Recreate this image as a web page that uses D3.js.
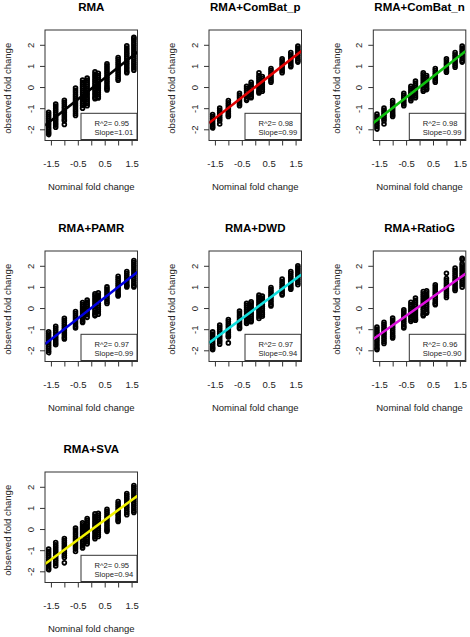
<!DOCTYPE html>
<html>
<head>
<meta charset="utf-8">
<script src="https://cdn.jsdelivr.net/npm/d3@7"></script>
<style>
  html, body { margin: 0; padding: 0; background: #fff; }
  svg { display: block; }
  text { font-family: "Liberation Sans", Arial, sans-serif; }
</style>
</head>
<body>
<svg id="chart" width="470" height="637"></svg>
<script>
// ---------- DATA ----------
const nominalFC = [-1.585, -1.322, -1, -0.585, -0.322, -0.152, 0.138, 0.263, 0.585, 1, 1.322, 1.585];
const xTickValues = [-1.5, -1, -0.5, 0, 0.5, 1, 1.5];
const xTickLabels = ["-1.5", "", "-0.5", "", "0.5", "", "1.5"];
const yTickValues = [-2, -1, 0, 1, 2];
const yTickLabels = ["-2", "-1", "0", "1", "2"];

const titles = ["RMA", "RMA+ComBat_p", "RMA+ComBat_n", "RMA+PAMR", "RMA+DWD", "RMA+RatioG", "RMA+SVA"];
const lineColors = ["#000000", "#e00000", "#10c010", "#0000e0", "#10dede", "#dd10dd", "#f2f200"];
const rSquared = [0.95, 0.98, 0.98, 0.97, 0.97, 0.96, 0.95];
const slopes = [1.01, 0.99, 0.99, 0.99, 0.94, 0.90, 0.94];
const intercepts = [-0.08, 0.0, 0.0, 0.0, -0.03, 0.08, -0.04];

// observed fold change, one list per nominal fold change column
const obsRMA = [
  [-1.2,-1.3,-1.4,-1.5,-1.6,-1.7,-1.8,-1.9,-2.0,-2.1,-2.18,-2.25],
  [-0.8,-0.9,-1.0,-1.1,-1.2,-1.3,-1.4,-1.5,-1.6,-1.7,-1.8,-1.9],
  [-0.63,-0.72,-0.82,-0.92,-1.02,-1.12,-1.22,-1.32,-1.42,-1.52,-1.6,-1.77],
  [-0.05,-0.15,-0.25,-0.35,-0.45,-0.55,-0.65,-0.75,-0.85,-0.95,-1.05,-1.15,-1.25,-1.35],
  [0.33,0.23,0.13,0.03,-0.07,-0.17,-0.27,-0.37,-0.47,-0.57,-0.67,-0.77,-0.87,-1.0],
  [0.42,0.32,0.22,0.12,0.02,-0.08,-0.18,-0.28,-0.38,-0.48,-0.58,-0.68,-0.78,-0.88],
  [0.72,0.62,0.52,0.42,0.32,0.22,0.12,0.02,-0.08,-0.18,-0.28,-0.38,-0.48,-0.55],
  [0.65,0.55,0.45,0.35,0.25,0.15,0.05,-0.05,-0.15,-0.25,-0.35,-0.45,-0.52],
  [1.1,1.0,0.9,0.8,0.7,0.6,0.5,0.4,0.3,0.2,0.1,0.0,-0.07,-0.14],
  [1.4,1.3,1.2,1.1,1.0,0.9,0.8,0.7,0.6,0.5,0.4,0.32],
  [1.95,1.85,1.75,1.65,1.55,1.45,1.35,1.25,1.15,1.05,0.95,0.85,0.75,0.68],
  [2.36,2.28,2.2,2.1,2.0,1.9,1.8,1.7,1.6,1.5,1.4,1.3,1.2,1.1,1.0,0.9,0.8]
];
const obsComBatP = [
  [-1.3,-1.4,-1.5,-1.6,-1.7,-1.8,-1.88,-1.94],
  [-1.0,-1.1,-1.2,-1.3,-1.4,-1.5,-1.6,-1.75],
  [-0.64,-0.74,-0.84,-0.94,-1.04,-1.14,-1.24,-1.32,-1.39],
  [-0.3,-0.4,-0.5,-0.6,-0.7,-0.8,-0.88],
  [0.04,-0.06,-0.16,-0.26,-0.36,-0.46,-0.56,-0.63],
  [0.23,0.13,0.03,-0.07,-0.17,-0.27,-0.37,-0.45,-0.51],
  [0.68,0.55,0.45,0.35,0.25,0.15,0.05,-0.05,-0.15,-0.22,-0.28],
  [0.5,0.4,0.3,0.2,0.1,0.0,-0.1,-0.2],
  [0.88,0.78,0.68,0.58,0.48,0.38,0.3,0.23],
  [1.34,1.24,1.14,1.04,0.94,0.84,0.76,0.68],
  [1.63,1.53,1.43,1.33,1.23,1.13,1.03,0.96],
  [1.94,1.84,1.74,1.64,1.54,1.44,1.34,1.26,1.18]
];
const obsComBatN = [
  [-1.28,-1.38,-1.48,-1.58,-1.68,-1.78,-1.88,-1.99],
  [-1.0,-1.1,-1.2,-1.3,-1.4,-1.5,-1.6,-1.75],
  [-0.64,-0.74,-0.84,-0.94,-1.04,-1.14,-1.24,-1.32,-1.39],
  [-0.3,-0.4,-0.5,-0.6,-0.7,-0.8,-0.88],
  [0.04,-0.06,-0.16,-0.26,-0.36,-0.46,-0.56,-0.65],
  [0.28,0.18,0.08,-0.02,-0.12,-0.22,-0.32,-0.42,-0.51],
  [0.68,0.58,0.48,0.38,0.28,0.18,0.08,-0.02,-0.12,-0.2],
  [0.55,0.45,0.35,0.25,0.15,0.05,-0.05,-0.12],
  [0.88,0.78,0.68,0.58,0.48,0.38,0.3,0.23],
  [1.34,1.24,1.14,1.04,0.94,0.84,0.76,0.7],
  [1.63,1.53,1.43,1.33,1.23,1.13,1.03,0.94],
  [1.94,1.84,1.74,1.64,1.54,1.44,1.34,1.24,1.18]
];
const obsPAMR = [
  [-1.12,-1.22,-1.32,-1.42,-1.52,-1.62,-1.72,-1.82,-1.92,-2.02,-2.11],
  [-0.86,-0.96,-1.06,-1.16,-1.26,-1.36,-1.46,-1.56,-1.66,-1.74],
  [-0.48,-0.58,-0.68,-0.78,-0.88,-0.98,-1.08,-1.18,-1.28,-1.38,-1.46],
  [-0.16,-0.26,-0.36,-0.46,-0.56,-0.66,-0.76,-0.86,-0.94],
  [0.26,0.16,0.06,-0.04,-0.14,-0.24,-0.34,-0.44,-0.54,-0.62,-0.68],
  [0.38,0.28,0.18,0.08,-0.02,-0.12,-0.22,-0.32,-0.44],
  [0.68,0.58,0.48,0.38,0.28,0.18,0.08,-0.02,-0.12,-0.22,-0.3,-0.37],
  [0.72,0.62,0.52,0.42,0.32,0.22,0.12,0.02,-0.08,-0.18,-0.29],
  [1.0,0.9,0.8,0.7,0.6,0.5,0.4,0.3,0.22],
  [1.5,1.4,1.3,1.2,1.1,1.0,0.9,0.8,0.7,0.62,0.57],
  [1.73,1.63,1.53,1.43,1.33,1.23,1.13,1.05,1.0],
  [2.25,2.15,2.05,1.95,1.85,1.75,1.65,1.55,1.45,1.35,1.25,1.15,1.05,1.0]
];
const obsDWD = [
  [-1.13,-1.23,-1.33,-1.43,-1.53,-1.63,-1.73,-1.83,-1.9,-1.97],
  [-0.81,-0.91,-1.01,-1.11,-1.21,-1.31,-1.41,-1.51,-1.6,-1.71],
  [-0.54,-0.64,-0.74,-0.84,-0.94,-1.04,-1.14,-1.24,-1.32,-1.37,-1.65],
  [-0.14,-0.24,-0.34,-0.44,-0.54,-0.64,-0.74,-0.84,-0.92,-0.97],
  [0.22,0.12,0.02,-0.08,-0.18,-0.28,-0.38,-0.48,-0.58,-0.66,-0.73],
  [0.3,0.2,0.1,0.0,-0.1,-0.2,-0.3,-0.4,-0.5,-0.58,-0.65],
  [0.62,0.52,0.42,0.32,0.22,0.12,0.02,-0.08,-0.18,-0.28,-0.39,-0.49],
  [0.57,0.47,0.37,0.27,0.17,0.07,-0.03,-0.13,-0.23,-0.3,-0.39],
  [0.97,0.87,0.77,0.67,0.57,0.47,0.37,0.27,0.17,0.1],
  [1.37,1.27,1.17,1.07,0.97,0.87,0.77,0.68,0.62],
  [1.73,1.63,1.53,1.43,1.33,1.23,1.13,1.03,0.95,0.89],
  [2.0,1.9,1.8,1.7,1.6,1.5,1.4,1.3,1.2,1.1]
];
const obsRatioG = [
  [-0.9,-1.0,-1.1,-1.2,-1.3,-1.4,-1.5,-1.6,-1.7,-1.8,-1.9,-1.97],
  [-0.68,-0.78,-0.88,-0.98,-1.08,-1.18,-1.28,-1.38,-1.48,-1.58,-1.68],
  [-0.47,-0.57,-0.67,-0.77,-0.87,-0.97,-1.07,-1.17,-1.27,-1.35,-1.42],
  [-0.08,-0.18,-0.28,-0.38,-0.48,-0.58,-0.68,-0.78,-0.87,-0.94],
  [0.27,0.17,0.07,-0.03,-0.13,-0.23,-0.33,-0.43,-0.53,-0.63],
  [0.47,0.37,0.27,0.17,0.07,-0.03,-0.13,-0.23,-0.33,-0.43,-0.52,-0.58],
  [0.78,0.68,0.58,0.48,0.38,0.28,0.18,0.08,-0.02,-0.12,-0.22,-0.3,-0.36],
  [0.82,0.72,0.62,0.52,0.42,0.32,0.22,0.12,0.02,-0.08,-0.18,-0.24],
  [1.1,1.0,0.9,0.8,0.7,0.6,0.5,0.4,0.3,0.22,0.16],
  [1.65,1.4,1.3,1.2,1.1,1.0,0.9,0.8,0.7,0.6,0.5],
  [1.89,1.79,1.69,1.59,1.49,1.39,1.29,1.19,1.09,0.99,0.9,0.83],
  [2.36,2.28,2.1,2.0,1.9,1.8,1.7,1.6,1.5,1.4,1.3,1.2,1.1,0.99]
];
const obsSVA = [
  [-0.95,-1.05,-1.15,-1.25,-1.35,-1.45,-1.55,-1.65,-1.75,-1.85,-1.93],
  [-0.64,-0.74,-0.84,-0.94,-1.04,-1.14,-1.24,-1.34,-1.44,-1.54,-1.64,-1.75],
  [-0.45,-0.55,-0.65,-0.75,-0.85,-0.95,-1.05,-1.15,-1.25,-1.35,-1.6],
  [0.05,-0.05,-0.15,-0.25,-0.35,-0.45,-0.55,-0.65,-0.75,-0.85,-0.95,-1.06],
  [0.3,0.2,0.1,0.0,-0.1,-0.2,-0.3,-0.4,-0.5,-0.6,-0.7,-0.8,-0.9],
  [0.5,0.4,0.3,0.2,0.1,0.0,-0.1,-0.2,-0.3,-0.4,-0.5,-0.6,-0.7],
  [0.72,0.62,0.52,0.42,0.32,0.22,0.12,0.02,-0.08,-0.18,-0.28,-0.38,-0.46],
  [0.74,0.64,0.54,0.44,0.34,0.24,0.14,0.04,-0.06,-0.16,-0.26,-0.35],
  [0.93,0.83,0.73,0.63,0.53,0.43,0.33,0.23,0.13,0.03,-0.05,-0.11],
  [1.3,1.2,1.1,1.0,0.9,0.8,0.7,0.6,0.5,0.42,0.36],
  [1.68,1.58,1.48,1.38,1.28,1.18,1.08,0.98,0.88,0.78,0.68],
  [2.06,1.96,1.86,1.76,1.66,1.56,1.46,1.36,1.26,1.16,1.06,0.96,0.86,0.78]
];
const panelData = [obsRMA, obsComBatP, obsComBatN, obsPAMR, obsDWD, obsRatioG, obsSVA];

// ---------- LAYOUT ----------
const colLeft = [45, 209, 373.3];
const rowTop = [30, 251, 472];
const bw = 92.5, bh = 110.5;

const x = d3.scaleLinear().domain([-1.72, 1.72]).range([0, bw]);
const y = d3.scaleLinear().domain([-2.53, 2.7]).range([bh, 0]);

const svg = d3.select("#chart");
svg.append("rect").attr("width", 470).attr("height", 637).attr("fill", "#fff");

titles.forEach((title, i) => {
  const col = i % 3, row = Math.floor(i / 3);
  const g = svg.append("g").attr("transform", `translate(${colLeft[col]},${rowTop[row]})`);

  const clipId = "clip" + i;
  g.append("clipPath").attr("id", clipId)
    .append("rect").attr("width", bw).attr("height", bh);

  // points
  const pts = [];
  panelData[i].forEach((vals, ci) => vals.forEach(v => pts.push([nominalFC[ci], v])));
  g.append("g").attr("clip-path", `url(#${clipId})`)
    .selectAll("circle").data(pts).join("circle")
    .attr("cx", d => x(d[0])).attr("cy", d => y(d[1]))
    .attr("r", 1.9).attr("fill", "none").attr("stroke", "#000").attr("stroke-width", 1.8);

  // regression line
  const xd = x.domain();
  g.append("line").attr("clip-path", `url(#${clipId})`)
    .attr("x1", x(xd[0])).attr("y1", y(intercepts[i] + slopes[i] * xd[0]))
    .attr("x2", x(xd[1])).attr("y2", y(intercepts[i] + slopes[i] * xd[1]))
    .attr("stroke", lineColors[i]).attr("stroke-width", 2.6);

  // legend
  const lg = g.append("g").attr("transform", "translate(36,83.3)");
  lg.append("rect").attr("width", 56).attr("height", 26.2)
    .attr("fill", "#fff").attr("stroke", "#333").attr("stroke-width", 1);
  lg.append("text").attr("x", 13.5).attr("y", 12.7).attr("font-size", 7.6).attr("fill", "#222")
    .text("R^2= " + rSquared[i].toFixed(2));
  lg.append("text").attr("x", 13.5).attr("y", 21.7).attr("font-size", 7.6).attr("fill", "#222")
    .text("Slope=" + slopes[i].toFixed(2));

  // box
  g.append("rect").attr("width", bw).attr("height", bh)
    .attr("fill", "none").attr("stroke", "#333").attr("stroke-width", 1);

  // x axis
  const xa = g.append("g").attr("transform", `translate(0,${bh})`)
    .call(d3.axisBottom(x).tickValues(xTickValues).tickSize(5)
      .tickFormat((d, k) => xTickLabels[k]));
  xa.select(".domain").remove();
  xa.selectAll("line").attr("stroke", "#333");
  xa.selectAll("text").attr("y", 26.8).attr("dy", 0)
    .attr("font-size", 9.5).attr("fill", "#222")
    .style("font-family", '"Liberation Sans", Arial, sans-serif');

  // y axis
  const ya = g.append("g")
    .call(d3.axisLeft(y).tickValues(yTickValues).tickSize(5)
      .tickFormat((d, k) => yTickLabels[k]));
  ya.select(".domain").remove();
  ya.selectAll("line").attr("stroke", "#333");
  ya.selectAll("text").attr("x", 0).attr("y", 0).attr("dy", "0.35em")
    .attr("text-anchor", "middle")
    .attr("transform", "translate(-14.5,0) rotate(-90)")
    .attr("font-size", 9.5).attr("fill", "#222")
    .style("font-family", '"Liberation Sans", Arial, sans-serif');

  // title
  g.append("text").attr("x", bw / 2).attr("y", -18.6)
    .attr("text-anchor", "middle").attr("font-size", 11.5).attr("font-weight", "bold")
    .attr("fill", "#000").text(title);

  // axis titles
  g.append("text").attr("x", bw / 2).attr("y", bh + 49.5)
    .attr("text-anchor", "middle").attr("font-size", 9.5).attr("fill", "#222")
    .text("Nominal fold change");
  g.append("text")
    .attr("transform", `translate(-37,${bh / 2 + 3}) rotate(-90)`)
    .attr("dy", "0.35em")
    .attr("text-anchor", "middle").attr("font-size", 9.5).attr("fill", "#222")
    .text("observed fold change");
});
</script>
</body>
</html>
